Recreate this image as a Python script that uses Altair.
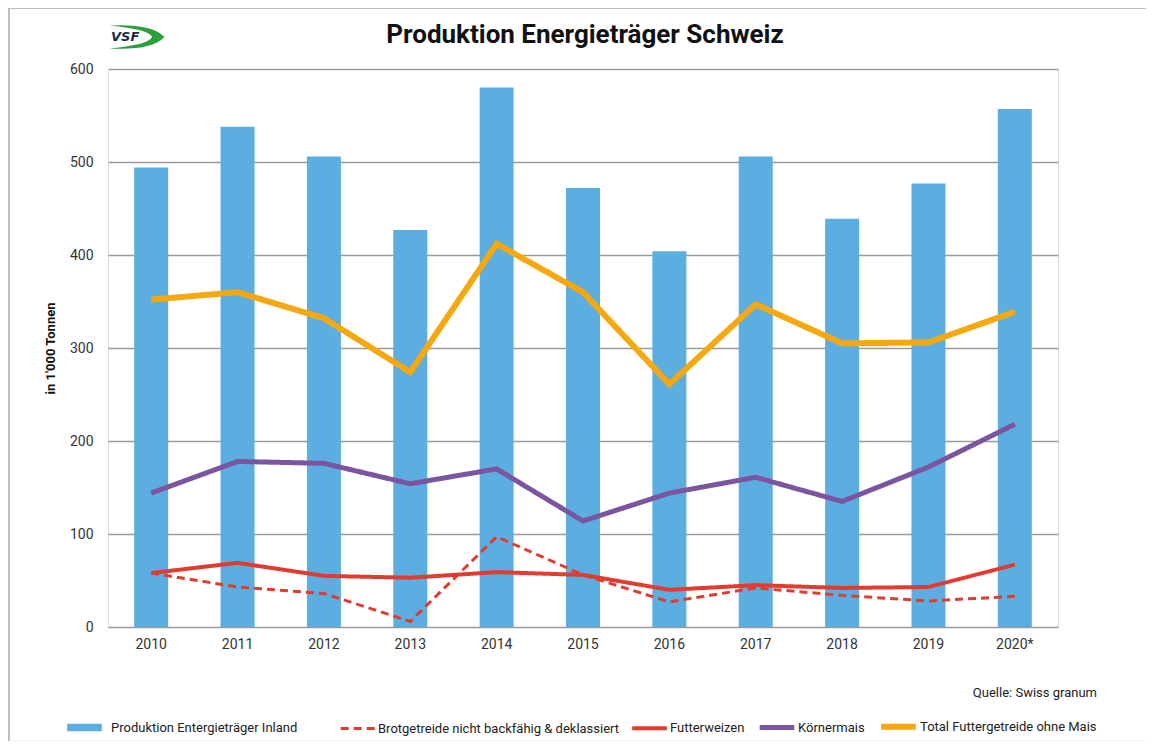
import altair as alt
import pandas as pd

years = ["2010", "2011", "2012", "2013", "2014", "2015", "2016", "2017", "2018", "2019", "2020*"]
inland = [494, 538, 506, 427, 580, 472, 404, 506, 439, 477, 557]
brotgetreide = [58, 43, 36, 6, 97, 56, 27, 42, 34, 28, 33]
futterweizen = [58, 69, 55, 53, 59, 56, 40, 45, 42, 43, 67]
koernermais = [144, 178, 176, 154, 170, 114, 144, 161, 135, 172, 218]
total_futter = [352, 360, 332, 274, 412, 360, 261, 347, 305, 306, 339]

bar_name = "Produktion Entergieträger Inland"
line_names = ["Brotgetreide nicht backfähig & deklassiert", "Futterweizen", "Körnermais",
              "Total Futtergetreide ohne Mais"]
line_colors = ["#e23b2f", "#e23b2f", "#7b559f", "#f6a80f"]
line_widths = [3, 6, 4.5, 5]
line_dashes = [[8, 5], [1, 0], [1, 0], [1, 0]]
draw_order = [3, 2, 1, 0]

FONT = "Roboto"

bars_df = pd.DataFrame({"Jahr": years, "Wert": inland, "Serie": bar_name})
series_values = [brotgetreide, futterweizen, koernermais, total_futter]
rows = []
for idx in draw_order:
    for y, v in zip(years, series_values[idx]):
        rows.append({"Jahr": y, "Wert": v, "Serie": line_names[idx], "ord": draw_order.index(idx)})
lines_df = pd.DataFrame(rows)

x_enc = alt.X("Jahr:N", sort=years, title=None,
              scale=alt.Scale(paddingInner=0.6, paddingOuter=0.3),
              axis=alt.Axis(labelAngle=0, ticks=False, domain=False, labelPadding=10,
                            labelFontSize=14, labelColor="#333333", labelFont=FONT))
y_scale = alt.Scale(domain=[0, 600])
y_axis = alt.Axis(values=[0, 100, 200, 300, 400, 500, 600], grid=True, gridColor="#9a9a9a",
                  gridWidth=1.5, ticks=False, domain=False, labelPadding=15, labelFontSize=14,
                  labelColor="#333333", labelFont=FONT, title="in 1'000 Tonnen",
                  titleFont=FONT, titleFontSize=13, titleFontWeight="bold", titleColor="#111111",
                  titlePadding=12)

legend_common = dict(title=None, orient="none", direction="horizontal", labelFont=FONT,
                     labelFontSize=13, labelColor="#222222", symbolSize=1200, labelLimit=400)

bars = alt.Chart(bars_df).mark_bar(size=34).encode(
    x=x_enc,
    y=alt.Y("Wert:Q", scale=y_scale, axis=y_axis),
    fill=alt.Fill("Serie:N", scale=alt.Scale(domain=[bar_name], range=["#5caee0"]),
                  legend=alt.Legend(symbolType="M-1,-0.22H1V0.22H-1Z", symbolStrokeWidth=0,
                                    labelOffset=9, legendX=-41, legendY=641, **legend_common)),
)

line_legend = alt.Legend(symbolType="stroke", symbolStrokeWidth=5, labelOffset=1,
                         columnPadding=4, legendX=231, legendY=637, **legend_common)

lines = alt.Chart(lines_df).mark_line().encode(
    x=alt.X("Jahr:N", sort=years),
    y=alt.Y("Wert:Q", scale=y_scale),
    stroke=alt.Stroke("Serie:N", scale=alt.Scale(domain=line_names, range=line_colors),
                      legend=line_legend),
    strokeDash=alt.StrokeDash("Serie:N", scale=alt.Scale(domain=line_names, range=line_dashes),
                              legend=line_legend),
    strokeWidth=alt.StrokeWidth("Serie:N", scale=alt.Scale(domain=line_names, range=line_widths),
                                legend=None),
    order=alt.Order("ord:Q"),
)

source_df = pd.DataFrame({"t": ["Quelle: Swiss granum"]})
source = alt.Chart(source_df).mark_text(align="right", baseline="middle", font=FONT, fontSize=13,
                                        color="#222222").encode(
    text="t:N", x=alt.value(989), y=alt.value(624))

title_df = pd.DataFrame({"t": ["Produktion Energieträger Schweiz"]})
title = alt.Chart(title_df).mark_text(align="center", baseline="middle", font=FONT, fontSize=26,
                                      fontWeight="bold", color="#111111").encode(
    text="t:N", x=alt.value(477), y=alt.value(-34))

logo_df = pd.DataFrame({"t": ["VSF"]})
swoosh = alt.Chart(logo_df).mark_point(filled=True, color="#2aa13a", opacity=1,
    shape="M-1,-0.42 Q0.55,-0.5 1,0 Q0.55,0.5 -1,0.42 Q0.45,0.28 0.55,0 Q0.45,-0.28 -1,-0.42Z",
    size=3000).encode(x=alt.value(29), y=alt.value(-32))
logo_text = alt.Chart(logo_df).mark_text(font="DejaVu Sans", fontSize=13, fontWeight="bold",
                                         fontStyle="italic", color="#1b2a4a", align="left",
                                         baseline="middle").encode(
    text="t:N", x=alt.value(3), y=alt.value(-32))

frame_df = pd.DataFrame({"k": ["left", "top", "bottom"]})
frame_left = alt.Chart(frame_df.iloc[[0]]).mark_rule(color="#bdbdbd", strokeWidth=2).encode(
    x=alt.value(-99), y=alt.value(-61), y2=alt.value(672))
frame_top = alt.Chart(frame_df.iloc[[1]]).mark_rule(color="#bdbdbd", strokeWidth=2).encode(
    x=alt.value(-99), x2=alt.value(1040), y=alt.value(-61))
frame_bottom = alt.Chart(frame_df.iloc[[2]]).mark_rule(color="#e0e0e0", strokeWidth=1).encode(
    x=alt.value(-99), x2=alt.value(1040), y=alt.value(672))

chart = alt.layer(frame_left, frame_top, frame_bottom, bars, lines, source, title, swoosh,
                  logo_text).properties(
    width=950, height=558,
    autosize=alt.AutoSizeParams(type="none"),
    padding={"left": 100, "top": 61, "right": 88, "bottom": 114},
).configure_view(stroke=None).configure(background="white")

chart.save("out.html", embed_options={"renderer": "svg", "actions": False})
